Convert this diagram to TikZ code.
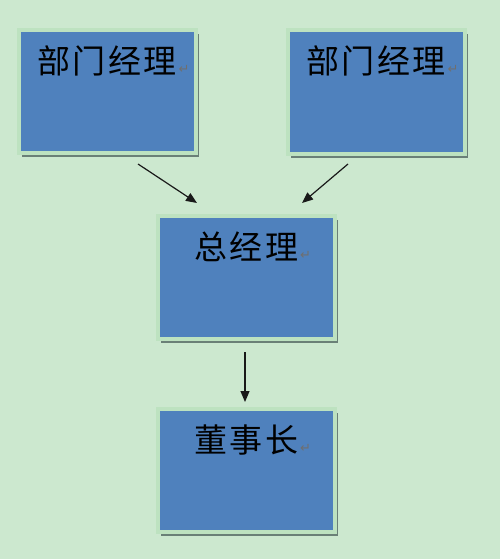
\documentclass[tikz,border=0pt]{standalone}
\usepackage{fontspec}
\newfontfamily\cjk{Noto Sans CJK SC}
\newfontfamily\djv{DejaVu Sans}
\usetikzlibrary{shadows,arrows.meta}
\definecolor{bgc}{HTML}{CCE8CF}
\definecolor{boxblue}{HTML}{4F81BD}
\definecolor{framec}{HTML}{BDE2C0}
\definecolor{shadowc}{HTML}{6A8077}
\definecolor{markc}{HTML}{6F6F6F}
\newcommand{\pmark}{\hspace{2pt}{\djv\fontsize{13}{13}\selectfont\color{markc}↵}}
\newcommand{\ck}{\kern2.5pt}
\tikzset{
  box/.style={draw=framec, line width=4pt, fill=boxblue, minimum width=177pt, minimum height=123pt, inner sep=0pt,
    drop shadow={shadow xshift=3pt, shadow yshift=-4pt, fill=shadowc, opacity=1}},
  lbl/.style={anchor=base west, inner sep=0pt, font=\cjk\fontsize{33}{33}\selectfont, text=black},
  arr/.style={line width=1.2pt, draw=black!90, -{Triangle[length=11pt,width=9pt]}}
}
\begin{document}
\begin{tikzpicture}[x=1pt,y=-1pt]
\fill[bgc] (0,0) rectangle (500,559);
\useasboundingbox (0,0) rectangle (500,559);
\node[box] (b1) at (107.5,91.5) {};
\node[box] (b2) at (376.5,92) {};
\node[box] (b3) at (246.5,277) {};
\node[box] (b4) at (246.5,470) {};
\node[lbl] (t1) at (37,74) {部\ck 门\ck 经\ck 理\pmark};
\node[lbl] (t2) at (306,74) {部\ck 门\ck 经\ck 理\pmark};
\node[lbl] (t3) at (194,259) {总\ck 经\ck 理\pmark};
\node[lbl] (t4) at (194,452) {董\ck 事\ck 长\pmark};
\coordinate (s1) at (138,164);
\coordinate (e1) at (197,203);
\coordinate (s2) at (348,164);
\coordinate (e2) at (302,203);
\coordinate (s3) at (245,352);
\coordinate (e3) at (245,402);
\draw[arr] (s1) -- (e1);
\draw[arr] (s2) -- (e2);
\draw[arr] (s3) -- (e3);
\end{tikzpicture}
\end{document}
